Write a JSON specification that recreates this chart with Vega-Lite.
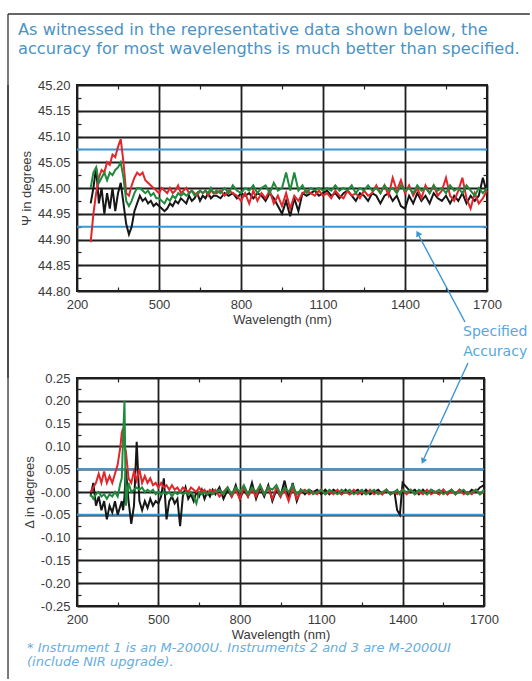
{
  "$schema": "https://vega.github.io/schema/vega-lite/v6.json",
  "background": "white",
  "padding": {"left": 6, "top": 12, "right": 0, "bottom": 0},
  "spacing": 87,
  "bounds": "flush",
  "datasets": {
    "psi": [
      {"w":250,"k":44.97,"r":44.895,"g":45.0},
      {"w":260,"k":45.0,"r":44.95,"g":45.03},
      {"w":270,"k":45.04,"r":44.99,"g":45.04},
      {"w":280,"k":44.97,"r":45.02,"g":45.01},
      {"w":290,"k":45.0,"r":45.035,"g":45.02},
      {"w":300,"k":44.95,"r":45.03,"g":45.03},
      {"w":310,"k":44.99,"r":45.05,"g":45.015},
      {"w":320,"k":44.96,"r":45.045,"g":45.03},
      {"w":330,"k":45.0,"r":45.065,"g":45.025},
      {"w":340,"k":44.955,"r":45.06,"g":45.035},
      {"w":350,"k":44.99,"r":45.08,"g":45.04},
      {"w":360,"k":45.01,"r":45.095,"g":45.05},
      {"w":370,"k":44.97,"r":45.05,"g":45.02},
      {"w":380,"k":44.93,"r":44.99,"g":44.975},
      {"w":390,"k":44.91,"r":44.985,"g":44.965},
      {"w":400,"k":44.925,"r":45.005,"g":44.975},
      {"w":410,"k":44.955,"r":45.02,"g":44.99},
      {"w":420,"k":44.97,"r":45.03,"g":45.0},
      {"w":430,"k":44.985,"r":45.025,"g":45.0},
      {"w":440,"k":44.975,"r":45.03,"g":44.995},
      {"w":450,"k":44.98,"r":45.015,"g":44.99},
      {"w":460,"k":44.97,"r":45.01,"g":44.995},
      {"w":470,"k":44.975,"r":45.005,"g":44.985},
      {"w":480,"k":44.965,"r":45.0,"g":44.99},
      {"w":490,"k":44.97,"r":44.995,"g":44.98},
      {"w":500,"k":44.965,"r":44.99,"g":44.98},
      {"w":510,"k":44.96,"r":45.0,"g":44.975},
      {"w":520,"k":44.955,"r":44.995,"g":44.97},
      {"w":530,"k":44.96,"r":44.99,"g":44.98},
      {"w":540,"k":44.97,"r":45.0,"g":44.975},
      {"w":550,"k":44.965,"r":44.99,"g":44.985},
      {"w":560,"k":44.975,"r":44.995,"g":44.98},
      {"w":570,"k":44.97,"r":45.005,"g":44.99},
      {"w":580,"k":44.98,"r":44.99,"g":44.985},
      {"w":590,"k":44.975,"r":44.995,"g":44.99},
      {"w":600,"k":44.97,"r":45.0,"g":44.985},
      {"w":610,"k":44.985,"r":44.99,"g":44.99},
      {"w":620,"k":44.975,"r":44.995,"g":44.995},
      {"w":630,"k":44.98,"r":44.99,"g":44.985},
      {"w":640,"k":44.99,"r":44.985,"g":44.99},
      {"w":650,"k":44.975,"r":44.995,"g":44.995},
      {"w":660,"k":44.985,"r":44.99,"g":44.99},
      {"w":670,"k":44.98,"r":44.995,"g":44.995},
      {"w":680,"k":44.99,"r":44.985,"g":44.99},
      {"w":690,"k":44.98,"r":44.995,"g":45.0},
      {"w":700,"k":44.985,"r":44.99,"g":44.99},
      {"w":710,"k":44.985,"r":44.99,"g":44.995},
      {"w":725,"k":44.98,"r":44.995,"g":44.99},
      {"w":740,"k":44.99,"r":44.985,"g":45.0},
      {"w":755,"k":44.985,"r":44.995,"g":44.99},
      {"w":770,"k":44.99,"r":44.99,"g":45.005},
      {"w":785,"k":44.98,"r":44.985,"g":44.995},
      {"w":800,"k":44.99,"r":44.975,"g":44.99},
      {"w":815,"k":44.985,"r":44.99,"g":45.0},
      {"w":830,"k":44.99,"r":44.97,"g":44.995},
      {"w":845,"k":44.98,"r":44.995,"g":45.005},
      {"w":860,"k":44.99,"r":44.975,"g":44.99},
      {"w":875,"k":44.985,"r":44.99,"g":45.0},
      {"w":890,"k":44.975,"r":44.98,"g":45.005},
      {"w":905,"k":44.99,"r":44.995,"g":44.99},
      {"w":920,"k":44.98,"r":44.97,"g":45.01},
      {"w":935,"k":44.965,"r":44.985,"g":44.995},
      {"w":950,"k":44.95,"r":44.965,"g":45.0},
      {"w":965,"k":44.975,"r":44.99,"g":45.03},
      {"w":980,"k":44.945,"r":44.96,"g":44.995},
      {"w":995,"k":44.98,"r":44.985,"g":45.03},
      {"w":1010,"k":44.955,"r":44.975,"g":44.995},
      {"w":1025,"k":44.99,"r":44.99,"g":45.005},
      {"w":1040,"k":44.985,"r":44.995,"g":44.99},
      {"w":1055,"k":44.99,"r":44.99,"g":45.0},
      {"w":1070,"k":44.995,"r":44.985,"g":44.995},
      {"w":1085,"k":44.985,"r":44.995,"g":45.0},
      {"w":1100,"k":44.99,"r":44.985,"g":44.995},
      {"w":1115,"k":44.995,"r":44.99,"g":45.0},
      {"w":1130,"k":44.985,"r":44.98,"g":44.995},
      {"w":1145,"k":44.99,"r":44.995,"g":45.005},
      {"w":1160,"k":44.98,"r":44.985,"g":44.995},
      {"w":1175,"k":44.99,"r":44.98,"g":45.0},
      {"w":1190,"k":44.995,"r":44.995,"g":44.995},
      {"w":1205,"k":44.985,"r":44.985,"g":45.005},
      {"w":1220,"k":44.975,"r":44.99,"g":44.99},
      {"w":1235,"k":44.99,"r":44.98,"g":45.0},
      {"w":1250,"k":44.985,"r":44.995,"g":44.995},
      {"w":1265,"k":44.975,"r":44.985,"g":45.005},
      {"w":1280,"k":44.99,"r":44.99,"g":44.995},
      {"w":1295,"k":44.985,"r":45.005,"g":45.0},
      {"w":1310,"k":44.97,"r":44.99,"g":44.99},
      {"w":1325,"k":44.985,"r":45.005,"g":45.005},
      {"w":1340,"k":44.99,"r":44.985,"g":44.995},
      {"w":1355,"k":44.975,"r":45.02,"g":45.0},
      {"w":1370,"k":44.985,"r":44.995,"g":44.99},
      {"w":1385,"k":44.965,"r":45.015,"g":45.005},
      {"w":1400,"k":44.96,"r":44.99,"g":44.995},
      {"w":1415,"k":44.985,"r":45.005,"g":45.0},
      {"w":1430,"k":44.97,"r":44.985,"g":44.99},
      {"w":1445,"k":44.99,"r":45.0,"g":45.005},
      {"w":1460,"k":44.975,"r":44.98,"g":44.995},
      {"w":1475,"k":44.985,"r":45.005,"g":45.0},
      {"w":1490,"k":44.97,"r":44.99,"g":44.99},
      {"w":1505,"k":44.99,"r":45.005,"g":45.005},
      {"w":1520,"k":44.98,"r":44.985,"g":44.995},
      {"w":1535,"k":44.975,"r":44.995,"g":45.0},
      {"w":1550,"k":44.985,"r":45.02,"g":44.99},
      {"w":1565,"k":44.97,"r":44.985,"g":45.005},
      {"w":1580,"k":44.985,"r":44.975,"g":44.995},
      {"w":1595,"k":44.975,"r":44.995,"g":45.0},
      {"w":1610,"k":44.99,"r":45.02,"g":44.99},
      {"w":1625,"k":44.97,"r":44.98,"g":45.005},
      {"w":1640,"k":44.985,"r":44.96,"g":44.995},
      {"w":1655,"k":44.975,"r":44.99,"g":44.985},
      {"w":1670,"k":44.985,"r":44.97,"g":45.0},
      {"w":1685,"k":45.02,"r":44.98,"g":44.99},
      {"w":1700,"k":44.99,"r":44.995,"g":45.0}
    ],
    "delta": [
      {"w":250,"k":-0.01,"r":0.0,"g":-0.005},
      {"w":260,"k":0.02,"r":0.01,"g":-0.015},
      {"w":270,"k":-0.03,"r":0.02,"g":-0.005},
      {"w":280,"k":-0.01,"r":0.04,"g":0.0},
      {"w":290,"k":-0.04,"r":0.02,"g":-0.01},
      {"w":300,"k":-0.02,"r":0.045,"g":-0.005},
      {"w":310,"k":-0.06,"r":0.02,"g":-0.015},
      {"w":320,"k":-0.03,"r":0.035,"g":-0.005},
      {"w":330,"k":-0.045,"r":0.02,"g":-0.01},
      {"w":340,"k":-0.02,"r":0.04,"g":0.0},
      {"w":350,"k":-0.05,"r":0.06,"g":-0.01},
      {"w":360,"k":-0.03,"r":0.1,"g":0.02},
      {"w":365,"k":-0.02,"r":0.13,"g":0.03},
      {"w":370,"k":-0.04,"r":0.14,"g":0.12},
      {"w":375,"k":-0.01,"r":0.1,"g":0.2},
      {"w":380,"k":0.05,"r":0.09,"g":-0.03},
      {"w":390,"k":-0.02,"r":0.03,"g":0.02},
      {"w":400,"k":-0.07,"r":0.02,"g":0.0},
      {"w":410,"k":-0.03,"r":0.045,"g":0.005},
      {"w":420,"k":0.11,"r":0.025,"g":0.01},
      {"w":430,"k":-0.02,"r":0.05,"g":0.005},
      {"w":440,"k":-0.04,"r":0.02,"g":0.01},
      {"w":450,"k":-0.02,"r":0.035,"g":0.0},
      {"w":460,"k":-0.035,"r":0.02,"g":0.005},
      {"w":470,"k":-0.015,"r":0.03,"g":0.0},
      {"w":480,"k":-0.03,"r":0.015,"g":0.005},
      {"w":490,"k":-0.02,"r":0.02,"g":-0.005},
      {"w":500,"k":-0.025,"r":0.01,"g":0.0},
      {"w":510,"k":-0.01,"r":0.02,"g":-0.005},
      {"w":520,"k":0.03,"r":0.01,"g":0.0},
      {"w":530,"k":-0.06,"r":0.015,"g":-0.005},
      {"w":540,"k":-0.02,"r":0.005,"g":0.0},
      {"w":550,"k":-0.01,"r":0.015,"g":-0.01},
      {"w":560,"k":-0.025,"r":0.005,"g":0.0},
      {"w":570,"k":-0.015,"r":0.01,"g":-0.005},
      {"w":580,"k":-0.075,"r":0.0,"g":0.0},
      {"w":590,"k":-0.01,"r":0.01,"g":-0.005},
      {"w":600,"k":0.01,"r":0.005,"g":0.0},
      {"w":610,"k":-0.015,"r":0.0,"g":-0.005},
      {"w":620,"k":-0.005,"r":0.01,"g":0.0},
      {"w":630,"k":-0.02,"r":0.005,"g":-0.01},
      {"w":640,"k":0.0,"r":0.0,"g":-0.025},
      {"w":650,"k":-0.01,"r":0.01,"g":0.0},
      {"w":660,"k":0.005,"r":0.0,"g":-0.005},
      {"w":670,"k":-0.015,"r":0.005,"g":0.0},
      {"w":680,"k":0.0,"r":-0.005,"g":-0.005},
      {"w":690,"k":-0.01,"r":0.005,"g":0.0},
      {"w":700,"k":0.005,"r":0.0,"g":-0.005},
      {"w":710,"k":-0.005,"r":0.005,"g":0.0},
      {"w":725,"k":0.01,"r":-0.01,"g":0.005},
      {"w":740,"k":-0.015,"r":0.0,"g":-0.005},
      {"w":755,"k":0.005,"r":0.01,"g":0.01},
      {"w":770,"k":-0.01,"r":-0.01,"g":-0.005},
      {"w":785,"k":0.015,"r":0.005,"g":0.01},
      {"w":800,"k":-0.015,"r":-0.015,"g":0.0},
      {"w":815,"k":0.005,"r":0.01,"g":0.015},
      {"w":830,"k":-0.01,"r":-0.01,"g":-0.005},
      {"w":845,"k":0.02,"r":0.005,"g":0.01},
      {"w":860,"k":-0.015,"r":-0.01,"g":0.0},
      {"w":875,"k":0.01,"r":0.015,"g":0.015},
      {"w":890,"k":-0.01,"r":-0.005,"g":-0.005},
      {"w":905,"k":0.015,"r":0.01,"g":0.01},
      {"w":920,"k":-0.02,"r":-0.015,"g":0.005},
      {"w":935,"k":0.005,"r":0.01,"g":0.015},
      {"w":950,"k":-0.01,"r":-0.01,"g":-0.005},
      {"w":965,"k":0.025,"r":0.005,"g":0.01},
      {"w":980,"k":-0.015,"r":-0.02,"g":0.0},
      {"w":995,"k":0.02,"r":0.01,"g":0.015},
      {"w":1010,"k":-0.02,"r":-0.015,"g":-0.005},
      {"w":1025,"k":0.005,"r":0.0,"g":0.005},
      {"w":1040,"k":-0.005,"r":0.005,"g":0.0},
      {"w":1055,"k":0.005,"r":-0.005,"g":0.005},
      {"w":1070,"k":0.0,"r":0.0,"g":-0.005},
      {"w":1085,"k":0.005,"r":-0.005,"g":0.0},
      {"w":1100,"k":-0.005,"r":0.005,"g":0.005},
      {"w":1115,"k":0.005,"r":-0.005,"g":-0.005},
      {"w":1130,"k":-0.005,"r":0.0,"g":0.005},
      {"w":1145,"k":0.005,"r":-0.005,"g":0.0},
      {"w":1160,"k":0.0,"r":0.005,"g":-0.005},
      {"w":1175,"k":-0.005,"r":-0.005,"g":0.005},
      {"w":1190,"k":0.005,"r":0.0,"g":0.0},
      {"w":1205,"k":-0.005,"r":-0.005,"g":0.005},
      {"w":1220,"k":0.0,"r":0.005,"g":-0.005},
      {"w":1235,"k":0.005,"r":-0.005,"g":0.0},
      {"w":1250,"k":-0.005,"r":0.0,"g":0.005},
      {"w":1265,"k":0.005,"r":-0.005,"g":-0.005},
      {"w":1280,"k":-0.005,"r":0.005,"g":0.0},
      {"w":1295,"k":0.0,"r":-0.005,"g":0.005},
      {"w":1310,"k":0.005,"r":0.0,"g":-0.005},
      {"w":1325,"k":-0.005,"r":-0.005,"g":0.0},
      {"w":1340,"k":0.005,"r":0.005,"g":0.005},
      {"w":1355,"k":-0.005,"r":-0.005,"g":-0.005},
      {"w":1370,"k":0.0,"r":0.0,"g":0.0},
      {"w":1380,"k":-0.04,"r":-0.005,"g":0.005},
      {"w":1390,"k":-0.05,"r":0.0,"g":-0.005},
      {"w":1400,"k":0.02,"r":0.005,"g":0.005},
      {"w":1415,"k":0.01,"r":-0.005,"g":0.0},
      {"w":1430,"k":0.0,"r":0.005,"g":0.005},
      {"w":1445,"k":0.005,"r":-0.005,"g":-0.005},
      {"w":1460,"k":-0.005,"r":0.0,"g":0.005},
      {"w":1475,"k":0.005,"r":-0.005,"g":0.0},
      {"w":1490,"k":-0.005,"r":0.005,"g":-0.005},
      {"w":1505,"k":0.005,"r":-0.005,"g":0.005},
      {"w":1520,"k":0.0,"r":0.0,"g":0.0},
      {"w":1535,"k":-0.005,"r":-0.005,"g":0.005},
      {"w":1550,"k":0.005,"r":0.005,"g":-0.005},
      {"w":1565,"k":-0.005,"r":-0.005,"g":0.0},
      {"w":1580,"k":0.005,"r":0.0,"g":0.005},
      {"w":1595,"k":-0.005,"r":-0.005,"g":-0.005},
      {"w":1610,"k":0.005,"r":0.005,"g":0.0},
      {"w":1625,"k":0.0,"r":-0.005,"g":0.005},
      {"w":1640,"k":-0.005,"r":0.0,"g":-0.005},
      {"w":1655,"k":0.005,"r":-0.005,"g":0.0},
      {"w":1670,"k":0.0,"r":0.005,"g":0.005},
      {"w":1685,"k":0.01,"r":-0.005,"g":-0.005},
      {"w":1700,"k":0.015,"r":0.0,"g":0.005}
    ]
  },
  "vconcat": [
    {
      "width": 410,
      "height": 206,
      "title": {
        "text": ["As witnessed in the representative data shown below, the", "accuracy for most wavelengths is much better than specified."],
        "anchor": "start",
        "frame": "group",
        "align": "left",
        "dx": -59,
        "offset": 22,
        "font": "DejaVu Sans",
        "fontSize": 16.2,
        "fontWeight": "normal",
        "color": "#4b93c4",
        "lineHeight": 19
      },
      "resolve": {"axis": {"x": "independent", "y": "independent"}},
      "layer": [
        {
          "data": {"values": [{"lim": 45.075}, {"lim": 44.925}]},
          "mark": {"type": "rule", "color": "#3b96d2", "strokeWidth": 2},
          "encoding": {
            "x": {"datum": 200, "type": "quantitative",
              "scale": {"domain": [200, 1700], "nice": false},
              "axis": {"orient": "top", "values": [200,350,500,650,800,950,1100,1250,1400,1550,1700], "labels": false, "grid": false, "tickSize": -4, "title": null}},
            "x2": {"datum": 1700},
            "y": {"field": "lim", "type": "quantitative",
              "scale": {"domain": [44.8, 45.2], "nice": false, "zero": false},
              "axis": {"orient": "right", "values": [44.8,44.825,44.85,44.875,44.9,44.925,44.95,44.975,45.0,45.025,45.05,45.075,45.1,45.125,45.15,45.175,45.2], "labels": false, "grid": false, "tickSize": -4, "title": null}}
          }
        },
        {
          "data": {"name": "psi"},
          "transform": [{"fold": ["k", "r", "g"], "as": ["inst", "val"]}],
          "mark": {"type": "line", "strokeWidth": 2},
          "encoding": {
            "x": {"field": "w", "type": "quantitative",
              "scale": {"domain": [200, 1700], "nice": false},
              "axis": {"orient": "bottom", "values": [200,350,500,650,800,950,1100,1250,1400,1550,1700],
                "labelExpr": "datum.value % 300 == 200 ? format(datum.value, 'd') : ''",
                "grid": true,
                "gridOpacity": {"condition": {"test": "datum.value % 300 != 200", "value": 0}, "value": 1},
                "tickSize": -4, "labelPadding": 11, "labelFlush": false, "labelOverlap": false,
                "title": "Wavelength (nm)", "titlePadding": 2}},
            "y": {"field": "val", "type": "quantitative",
              "scale": {"domain": [44.8, 45.2], "nice": false, "zero": false},
              "axis": {"orient": "left", "values": [44.8,44.825,44.85,44.875,44.9,44.925,44.95,44.975,45.0,45.025,45.05,45.075,45.1,45.125,45.15,45.175,45.2],
                "labelExpr": "round(datum.value*1000) % 50 == 0 ? format(datum.value, '.2f') : ''",
                "grid": true,
                "gridOpacity": {"condition": {"test": "round(datum.value*1000) % 50 != 0", "value": 0}, "value": 1},
                "tickSize": -4, "labelPadding": 11, "labelOverlap": false,
                "title": "Ψ in degrees", "titlePadding": 4}},
            "color": {"field": "inst", "type": "nominal",
              "scale": {"domain": ["k", "r", "g"], "range": ["#161616", "#e3262b", "#1f8a3c"]},
              "legend": null}
          }
        },
        {
          "data": {"values": [{}]},
          "mark": {"type": "text", "text": "Specified\nAccuracy", "lineBreak": "\n", "align": "center", "baseline": "top",
            "font": "DejaVu Sans", "fontSize": 14, "color": "#55a8dc", "lineHeight": 20},
          "encoding": {
            "x": {"datum": 1730, "type": "quantitative", "axis": null},
            "y": {"datum": 44.734, "type": "quantitative", "axis": null}
          }
        },
        {
          "data": {"values": [{}]},
          "mark": {"type": "rule", "color": "#3b96d2", "strokeWidth": 1.4},
          "encoding": {
            "x": {"datum": 1619.5, "type": "quantitative", "axis": null},
            "y": {"datum": 44.7398, "type": "quantitative", "axis": null},
            "x2": {"datum": 1449.4},
            "y2": {"datum": 44.9087}
          }
        },
        {
          "data": {"values": [{}]},
          "mark": {"type": "point", "shape": "triangle-up", "filled": true, "size": 45, "angle": 332, "color": "#3b96d2", "opacity": 1},
          "encoding": {
            "x": {"datum": 1447, "type": "quantitative", "axis": null},
            "y": {"datum": 44.912, "type": "quantitative", "axis": null}
          }
        },
        {
          "data": {"values": [{}]},
          "mark": {"type": "rule", "color": "#333333", "strokeWidth": 1.3},
          "encoding": {
            "x": {"datum": -52.4, "type": "quantitative", "axis": null},
            "y": {"datum": 45.2, "type": "quantitative", "axis": null},
            "y2": {"datum": 44.0466}
          }
        }
      ]
    },
    {
      "width": 407,
      "height": 228,
      "title": {
        "text": ["* Instrument 1 is an M-2000U. Instruments 2 and 3 are M-2000UI", "\u00a0\u00a0(include NIR upgrade)."],
        "orient": "bottom",
        "anchor": "start",
        "frame": "group",
        "align": "left",
        "baseline": "top",
        "dx": -50,
        "offset": 1,
        "font": "DejaVu Sans",
        "fontSize": 13,
        "fontStyle": "italic",
        "fontWeight": "normal",
        "color": "#68ade0",
        "lineHeight": 14
      },
      "resolve": {"axis": {"x": "independent", "y": "independent"}},
      "layer": [
        {
          "data": {"values": [{"lim": 0.05}, {"lim": -0.05}]},
          "mark": {"type": "rule", "color": "#3b96d2", "strokeWidth": 2},
          "encoding": {
            "x": {"datum": 200, "type": "quantitative",
              "scale": {"domain": [200, 1700], "nice": false},
              "axis": {"orient": "top", "values": [200,350,500,650,800,950,1100,1250,1400,1550,1700], "labels": false, "grid": false, "tickSize": -4, "title": null}},
            "x2": {"datum": 1700},
            "y": {"field": "lim", "type": "quantitative",
              "scale": {"domain": [-0.25, 0.25], "nice": false, "zero": false},
              "axis": {"orient": "right", "values": [-0.25,-0.225,-0.2,-0.175,-0.15,-0.125,-0.1,-0.075,-0.05,-0.025,0,0.025,0.05,0.075,0.1,0.125,0.15,0.175,0.2,0.225,0.25], "labels": false, "grid": false, "tickSize": -4, "title": null}}
          }
        },
        {
          "data": {"name": "delta"},
          "transform": [{"fold": ["k", "r", "g"], "as": ["inst", "val"]}],
          "mark": {"type": "line", "strokeWidth": 2},
          "encoding": {
            "x": {"field": "w", "type": "quantitative",
              "scale": {"domain": [200, 1700], "nice": false},
              "axis": {"orient": "bottom", "values": [200,350,500,650,800,950,1100,1250,1400,1550,1700],
                "labelExpr": "datum.value % 300 == 200 ? format(datum.value, 'd') : ''",
                "grid": true,
                "gridOpacity": {"condition": {"test": "datum.value % 300 != 200", "value": 0}, "value": 1},
                "tickSize": -4, "labelPadding": 11, "labelFlush": false, "labelOverlap": false,
                "title": "Wavelength (nm)", "titlePadding": 2}},
            "y": {"field": "val", "type": "quantitative",
              "scale": {"domain": [-0.25, 0.25], "nice": false, "zero": false},
              "axis": {"orient": "left", "values": [-0.25,-0.225,-0.2,-0.175,-0.15,-0.125,-0.1,-0.075,-0.05,-0.025,0,0.025,0.05,0.075,0.1,0.125,0.15,0.175,0.2,0.225,0.25],
                "labelExpr": "round(datum.value*1000) % 50 != 0 ? '' : (abs(datum.value) < 0.001 ? '-0.00' : (datum.value < 0 ? '-' + format(-datum.value, '.2f') : format(datum.value, '.2f')))",
                "grid": true,
                "gridOpacity": {"condition": {"test": "round(datum.value*1000) % 50 != 0", "value": 0}, "value": 1},
                "tickSize": -4, "labelPadding": 11, "labelOverlap": false,
                "title": "Δ in degrees", "titlePadding": 4}},
            "color": {"field": "inst", "type": "nominal",
              "scale": {"domain": ["k", "r", "g"], "range": ["#161616", "#e3262b", "#1f8a3c"]},
              "legend": null}
          }
        },
        {
          "data": {"values": [{}]},
          "mark": {"type": "rule", "color": "#3b96d2", "strokeWidth": 1.4},
          "encoding": {
            "x": {"datum": 1641, "type": "quantitative", "axis": null},
            "y": {"datum": 0.2829, "type": "quantitative", "axis": null},
            "x2": {"datum": 1477},
            "y2": {"datum": 0.0713}
          }
        },
        {
          "data": {"values": [{}]},
          "mark": {"type": "point", "shape": "triangle-up", "filled": true, "size": 45, "angle": 204.7, "color": "#3b96d2", "opacity": 1},
          "encoding": {
            "x": {"datum": 1475, "type": "quantitative", "axis": null},
            "y": {"datum": 0.0675, "type": "quantitative", "axis": null}
          }
        },
        {
          "data": {"values": [{}]},
          "mark": {"type": "rule", "color": "#333333", "strokeWidth": 1.3},
          "encoding": {
            "x": {"datum": -54.3, "type": "quantitative", "axis": null},
            "x2": {"datum": 1869},
            "y": {"datum": 1.0482, "type": "quantitative", "axis": null}
          }
        },
        {
          "data": {"values": [{}]},
          "mark": {"type": "rule", "color": "#333333", "strokeWidth": 1.3},
          "encoding": {
            "x": {"datum": -54.3, "type": "quantitative", "axis": null},
            "y": {"datum": 1.0482, "type": "quantitative", "axis": null},
            "y2": {"datum": 0.25}
          }
        }
      ]
    }
  ],
  "config": {
    "view": {"stroke": "#1a1a1a", "strokeWidth": 2},
    "axis": {
      "domain": false,
      "labelFont": "Liberation Sans",
      "labelFontSize": 13,
      "labelColor": "#3a3a3a",
      "titleFont": "Liberation Sans",
      "titleFontSize": 13,
      "titleFontWeight": "normal",
      "titleColor": "#3a3a3a",
      "gridColor": "#1e1e1e",
      "gridWidth": 1.8,
      "tickColor": "#222222",
      "tickWidth": 1.2
    }
  }
}
